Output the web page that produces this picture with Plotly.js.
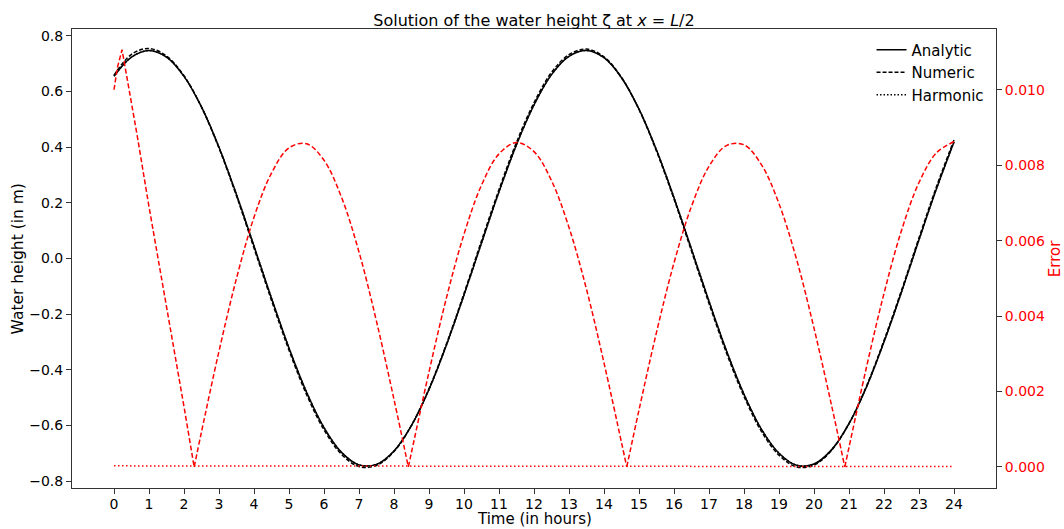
<!DOCTYPE html>
<html>
<head>
<meta charset="utf-8">
<script src="https://cdn.plot.ly/plotly-3.0.1.min.js"></script>
<style>html,body{margin:0;padding:0;background:#fff;}#chart{width:1064px;height:529px;}</style>
</head>
<body>
<div id="chart"></div>
<script>
// Time grid (hours) for the water-height curves
const timeHours = [0,0.5,1,1.5,2,2.5,3,3.5,4,4.5,5,5.5,6,6.5,7,7.5,8,8.5,9,9.5,10,10.5,11,11.5,12,12.5,13,13.5,14,14.5,15,15.5,16,16.5,17,17.5,18,18.5,19,19.5,20,20.5,21,21.5,22,22.5,23,23.5,24];

const analytic = [0.654,0.723,0.747,0.723,0.654,0.544,0.399,0.229,0.044,-0.143,-0.322,-0.480,-0.608,-0.697,-0.742,-0.740,-0.692,-0.600,-0.471,-0.311,-0.132,0.055,0.239,0.408,0.551,0.660,0.726,0.747,0.721,0.649,0.536,0.389,0.218,0.033,-0.154,-0.332,-0.488,-0.614,-0.700,-0.743,-0.739,-0.688,-0.594,-0.462,-0.300,-0.121,0.067,0.250,0.418];

const numeric = [0.658,0.733,0.754,0.727,0.656,0.543,0.396,0.224,0.037,-0.151,-0.330,-0.489,-0.616,-0.704,-0.748,-0.744,-0.694,-0.600,-0.468,-0.307,-0.126,0.063,0.247,0.417,0.559,0.668,0.732,0.752,0.724,0.650,0.535,0.385,0.213,0.026,-0.162,-0.340,-0.496,-0.622,-0.707,-0.749,-0.743,-0.690,-0.593,-0.459,-0.295,-0.115,0.074,0.258,0.425];

const harmonic = [0.655,0.723,0.747,0.723,0.654,0.544,0.399,0.229,0.044,-0.143,-0.322,-0.480,-0.608,-0.697,-0.742,-0.740,-0.692,-0.600,-0.471,-0.311,-0.132,0.055,0.239,0.408,0.551,0.660,0.726,0.747,0.721,0.649,0.536,0.389,0.218,0.033,-0.154,-0.332,-0.488,-0.614,-0.700,-0.743,-0.739,-0.688,-0.594,-0.462,-0.300,-0.121,0.067,0.250,0.418];

// Error of the numeric solution (right axis)
const errTime = [0,0.1,0.23,0.5,0.66,1,1.5,2,2.29,2.5,3,3.5,4,4.5,5,5.5,6,6.5,7,7.5,8,8.41,8.5,9,9.5,10,10.5,11,11.5,12,12.5,13,13.5,14,14.5,14.65,15,15.5,16,16.5,17,17.5,18,18.5,19,19.5,20,20.5,20.88,21,21.5,22,22.5,23,23.5,24];
const errNumeric = [0.0100,0.0106,0.01106,0.0097,0.0088,0.0069,0.0043,0.0016,0.0,0.00093,0.00307,0.00500,0.00662,0.00779,0.00846,0.00857,0.00813,0.00715,0.00570,0.00386,0.00179,0.0,0.00039,0.00252,0.00449,0.00617,0.00747,0.00830,0.00860,0.00836,0.00759,0.00635,0.00471,0.00276,0.00065,0.0,0.00151,0.00357,0.00541,0.00691,0.00797,0.00852,0.00854,0.00801,0.00698,0.00551,0.00368,0.00164,0.0,0.00052,0.00265,0.00460,0.00627,0.00754,0.00833,0.00862];

// Error of the harmonic solution (right axis)
const harmErrTime = [0,2,4,6,8,10,12,14,16,18,20,22,24];
const errHarmonic = [0.00003,0.00003,0.00002,0.00001,0.00001,0.00001,0.00001,0.00001,0.00001,0.00001,0.00001,0.00001,0.00001];

const xTicks = [0,1,2,3,4,5,6,7,8,9,10,11,12,13,14,15,16,17,18,19,20,21,22,23,24];
const yTicks = [-0.8,-0.6,-0.4,-0.2,0,0.2,0.4,0.6,0.8];
const errTicks = [0,0.002,0.004,0.006,0.008,0.010];

const FONT = 'DejaVu Sans, Liberation Sans, sans-serif';

const traces = [
  {x: timeHours, y: analytic, name: 'Analytic', type: 'scatter', mode: 'lines',
   line: {color: 'black', width: 1.5, shape: 'spline', smoothing: 1}},
  {x: timeHours, y: numeric, name: 'Numeric', type: 'scatter', mode: 'lines',
   line: {color: 'black', width: 1.5, dash: '4px,2px', shape: 'spline', smoothing: 1}},
  {x: timeHours, y: harmonic, name: 'Harmonic', type: 'scatter', mode: 'lines',
   line: {color: 'black', width: 1.5, dash: '1.5px,2px', shape: 'spline', smoothing: 1}}
];

// split the numeric error at its zero cusps so each arch is smooth but the cusps stay sharp
let seg = {x: [], y: []};
const segments = [];
for (let i = 0; i < errTime.length; i++) {
  seg.x.push(errTime[i]); seg.y.push(errNumeric[i]);
  if (errNumeric[i] === 0 && i > 0 && i < errTime.length - 1) {
    segments.push(seg);
    seg = {x: [errTime[i]], y: [errNumeric[i]]};
  }
}
segments.push(seg);
segments.forEach((s, k) => {
  traces.push({x: s.x, y: s.y, type: 'scatter', mode: 'lines', yaxis: 'y2', showlegend: false,
    name: 'Error numeric', hoverinfo: 'skip',
    line: {color: 'red', width: 1.5, dash: '5px,2.5px', shape: k === 0 ? 'linear' : 'spline', smoothing: 1}});
});

traces.push({x: harmErrTime, y: errHarmonic, name: 'Error harmonic', type: 'scatter', mode: 'lines', yaxis: 'y2',
   showlegend: false, line: {color: 'red', width: 1.5, dash: '1.5px,2.5px'}});

const layout = {
  width: 1064, height: 529,
  margin: {l: 72, r: 68, t: 29, b: 41, pad: 0},
  paper_bgcolor: 'white', plot_bgcolor: 'white',
  font: {family: FONT, size: 14, color: 'black'},
  title: {text: 'Solution of the water height ζ at <i>x</i> = <i>L</i>/2', x: 0.5, xref: 'paper', xanchor: 'center',
          y: 1, yref: 'paper', yanchor: 'bottom', pad: {b: 3}, font: {family: FONT, size: 16, color: 'black'}},
  showlegend: true,
  legend: {x: 0.993, xanchor: 'right', y: 0.99, yanchor: 'top', bgcolor: 'rgba(255,255,255,0)',
           borderwidth: 0, font: {family: FONT, size: 15, color: 'black'}, tracegroupgap: 0},
  xaxis: {range: [-1.2, 25.2], tickmode: 'array', tickvals: xTicks, ticktext: xTicks.map(String),
          showgrid: false, zeroline: false, showline: true, linecolor: '#333', linewidth: 1, mirror: true,
          ticks: 'outside', ticklen: 5, tickcolor: '#333', tickfont: {size: 14}, ticklabelstandoff: -2},
  yaxis: {range: [-0.825, 0.824], tickmode: 'array', tickvals: yTicks,
          tickformat: '.1f', showgrid: false, zeroline: false, showline: true, linecolor: '#333', linewidth: 1,
          mirror: true, ticks: 'outside', ticklen: 5, tickcolor: '#333', tickfont: {size: 14}},
  yaxis2: {overlaying: 'y', side: 'right', range: [-0.000557, 0.01161],
           tickmode: 'array', tickvals: errTicks, tickformat: '.3f',
           showgrid: false, zeroline: false, showline: true, linecolor: '#333', linewidth: 1,
           ticks: 'outside', ticklen: 5, tickcolor: '#333', tickfont: {size: 14, color: 'red'}},
  annotations: [
    {text: 'Time (in hours)', xref: 'paper', yref: 'paper', x: 0.5, y: -0.0675, xanchor: 'center', yanchor: 'middle',
     showarrow: false, font: {family: FONT, size: 15, color: 'black'}},
    {text: 'Water height (in m)', xref: 'paper', yref: 'paper', x: -0.0585, y: 0.5, xanchor: 'center', yanchor: 'middle',
     textangle: -90, showarrow: false, font: {family: FONT, size: 15.5, color: 'black'}},
    {text: 'Error', xref: 'paper', yref: 'paper', x: 1.0635, y: 0.5, xanchor: 'center', yanchor: 'middle',
     textangle: -90, showarrow: false, font: {family: FONT, size: 15, color: 'red'}}
  ]
};

Plotly.newPlot('chart', traces, layout, {displayModeBar: false, staticPlot: true});
</script>
</body>
</html>
